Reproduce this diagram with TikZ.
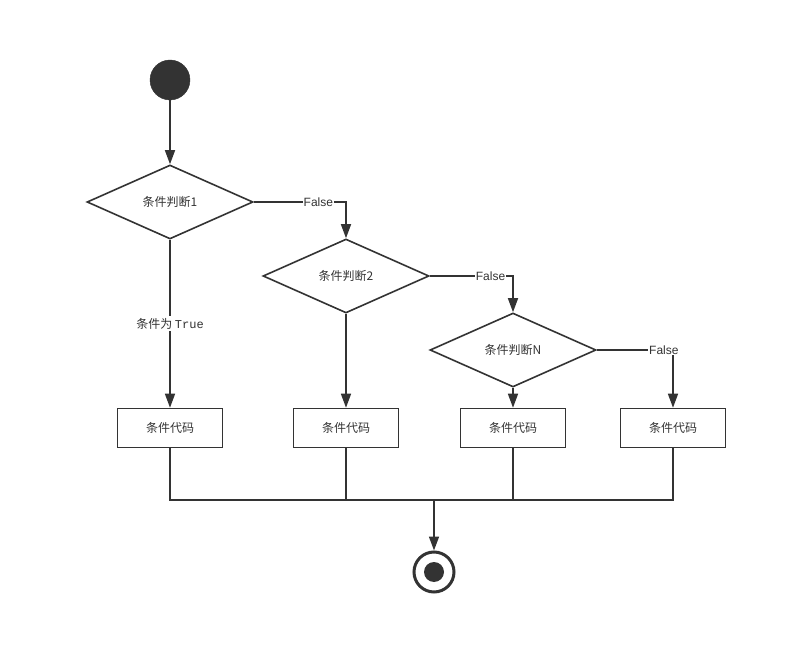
\documentclass[tikz,border=0pt]{standalone}
\usepackage{fontspec}
\setmainfont{Liberation Sans}
\setmonofont{Liberation Mono}
\newfontfamily\cjk{Noto Sans CJK SC}
\usetikzlibrary{shapes.geometric,arrows.meta}
\definecolor{ink}{HTML}{333333}
\tikzset{
  every node/.style={font=\cjk\fontsize{12}{14}\selectfont, text=ink},
  ln/.style={draw=ink, line width=1.6pt},
  arr/.style={ln, -{Triangle[length=14pt,width=10pt]}},
  cond/.style={diamond, draw=ink, line width=1.6pt, aspect=2.24, minimum width=166pt, minimum height=74pt, inner sep=0pt},
  codebox/.style={rectangle, draw=ink, line width=1.6pt, minimum width=105pt, minimum height=39pt, inner sep=0pt},
  lbl/.style={fill=white, inner sep=1pt, font=\fontsize{12}{14}\selectfont},
  lblc/.style={fill=white, inner sep=2pt},
}
\begin{document}
\begin{tikzpicture}[x=1pt,y=-1pt]
\useasboundingbox (0,0) rectangle (788,655);
\node[circle, fill=ink, draw=ink, minimum size=40pt, inner sep=0pt] (start) at (170,80) {};
\node[cond] (d1) at (170,202) {条件判断1};
\node[cond] (d2) at (346,276) {条件判断2};
\node[cond] (dN) at (513,350) {条件判断N};
\node[codebox] (b1) at (170,428) {条件代码};
\node[codebox] (b2) at (346,428) {条件代码};
\node[codebox] (b3) at (513,428) {条件代码};
\node[codebox] (b4) at (673,428) {条件代码};
\node[circle, draw=ink, line width=3pt, minimum size=40pt, inner sep=0pt] (stop) at (434,572) {};
\node[circle, fill=ink, minimum size=20pt, inner sep=0pt] (stopdot) at (stop.center) {};
\coordinate (m) at (434,500);

\draw[arr] (start) -- (d1.north);
\draw[arr] (d1.east) -- node[lbl, pos=0.7] {False} (d1.east -| d2.north) -- (d2.north);
\draw[arr] (d2.east) -- node[lbl, pos=0.73] {False} (d2.east -| dN.north) -- (dN.north);
\draw[arr] (dN.east) -- node[lbl, pos=0.88] {False} (dN.east -| b4.north) -- (b4.north);
\draw[arr] (d1.south) -- node[lblc, pos=0.5] {条件为 {\ttfamily True}} (b1.north);
\draw[arr] (d2.south) -- (b2.north);
\draw[arr] (dN.south) -- (b3.north);

\draw[ln] (b1.south) -- (b1.south |- m) -- (b4.south |- m) -- (b4.south);
\draw[ln] (b2.south) -- (b2.south |- m);
\draw[ln] (b3.south) -- (b3.south |- m);
\draw[arr] (m) -- (stop.north);
\end{tikzpicture}
\end{document}
